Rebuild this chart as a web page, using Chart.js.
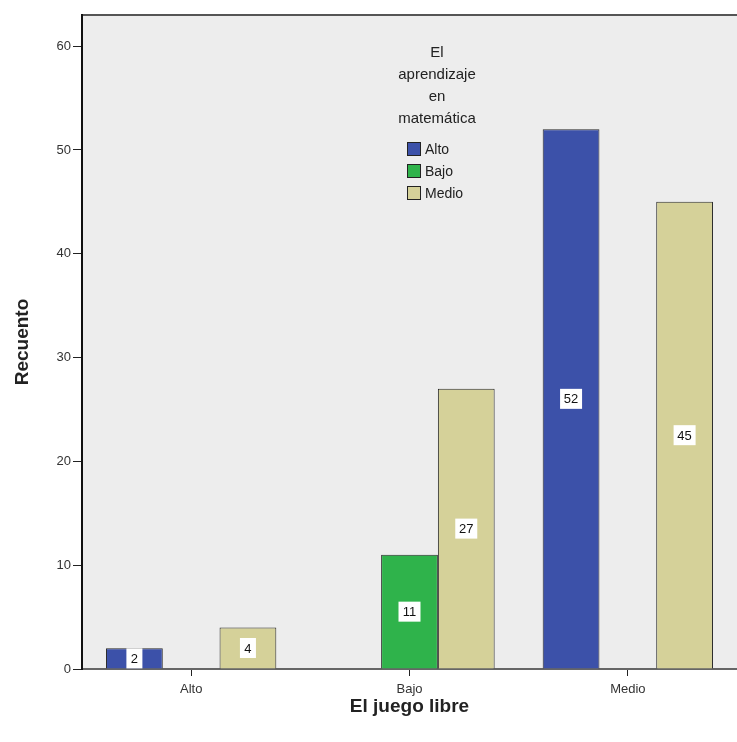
<!DOCTYPE html>
<html>
<head>
<meta charset="utf-8">
<script src="https://cdn.jsdelivr.net/npm/chart.js@4"></script>
<style>
  html, body { margin: 0; padding: 0; background: #fff; }
  #wrap { width: 737px; height: 742px; }
</style>
</head>
<body>
<div id="wrap"><canvas id="juego"></canvas></div>
<script>
// categorias del eje X (El juego libre)
var categorias = ['Alto', 'Bajo', 'Medio'];
// series (El aprendizaje en matemática)
var serieNombres = ['Alto', 'Bajo', 'Medio'];
var recuentoAlto = [2, 0, 52];
var recuentoBajo = [0, 11, 0];
var recuentoMedio = [4, 27, 45];
var yTicks = [0, 10, 20, 30, 40, 50, 60];
var legendTitle = ['El', 'aprendizaje', 'en', 'matemática'];

var colores = ['#3C51A9', '#2FB34B', '#D5D199'];

function barBorder(ctx) {
  return ctx.raw ? 1 : 0;
}

// fondo del area y borde superior
var fondoPlugin = {
  id: 'fondo',
  beforeDraw: function (chart) {
    var a = chart.chartArea, c = chart.ctx;
    c.save();
    c.fillStyle = '#EDEDED';
    c.fillRect(a.left, a.top, a.right - a.left, a.bottom - a.top);
    c.strokeStyle = '#555';
    c.lineWidth = 2;
    c.beginPath();
    c.moveTo(a.left, a.top);
    c.lineTo(a.right, a.top);
    c.stroke();
    c.restore();
  }
};

// etiquetas blancas dentro de las barras + leyenda interior
var etiquetasPlugin = {
  id: 'etiquetas',
  afterDatasetsDraw: function (chart) {
    var c = chart.ctx;
    c.save();
    c.font = '13px "Liberation Sans", Arial, sans-serif';
    c.textAlign = 'center';
    c.textBaseline = 'middle';
    chart.data.datasets.forEach(function (ds, i) {
      chart.getDatasetMeta(i).data.forEach(function (bar, j) {
        var v = ds.data[j];
        if (!v) return;
        var y = (bar.y + bar.base) / 2;
        var w = String(v).length > 1 ? 22 : 16;
        c.fillStyle = '#FFFFFF';
        c.fillRect(bar.x - w / 2, y - 10, w, 20);
        c.fillStyle = '#111';
        c.fillText(v, bar.x, y + 1);
      });
    });

    // leyenda
    var cx = 437;
    c.fillStyle = '#222';
    c.font = '15px "Liberation Sans", Arial, sans-serif';
    legendTitle.forEach(function (t, k) {
      c.fillText(t, cx, 53 + k * 22);
    });
    c.textAlign = 'left';
    c.font = '14px "Liberation Sans", Arial, sans-serif';
    chart.data.datasets.forEach(function (ds, i) {
      var y = 149 + i * 22;
      c.fillStyle = ds.backgroundColor;
      c.fillRect(407, y - 7, 14, 14);
      c.strokeStyle = '#222';
      c.lineWidth = 1;
      c.strokeRect(407.5, y - 6.5, 13, 13);
      c.fillStyle = '#222';
      c.fillText(ds.label, 425, y + 1);
    });
    c.restore();
  }
};

var ctxJuego = document.getElementById('juego').getContext('2d');

var juegoChart = new Chart(ctxJuego, {
  type: 'bar',
  data: {
    labels: categorias,
    datasets: [
      { label: serieNombres[0], data: recuentoAlto, backgroundColor: colores[0] },
      { label: serieNombres[1], data: recuentoBajo, backgroundColor: colores[1] },
      { label: serieNombres[2], data: recuentoMedio, backgroundColor: colores[2] }
    ]
  },
  options: {
    responsive: true,
    maintainAspectRatio: false,
    animation: false,
    layout: { padding: { top: 15, right: 0, left: 0, bottom: 24 } },
    datasets: {
      bar: {
        barPercentage: 1.0,
        categoryPercentage: 0.78,
        borderColor: '#2a2a2a',
        borderWidth: barBorder,
        borderSkipped: 'bottom'
      }
    },
    plugins: {
      legend: { display: false },
      tooltip: { enabled: false }
    },
    scales: {
      x: {
        grid: {
          display: true,
          offset: false,
          drawOnChartArea: false,
          drawTicks: true,
          tickLength: 7,
          tickColor: '#222',
          tickWidth: 1
        },
        border: { display: true, color: '#666', width: 2 },
        ticks: {
          color: '#333',
          padding: 6,
          font: { family: '"Liberation Sans", Arial, sans-serif', size: 13 }
        },
        title: {
          display: true,
          text: 'El juego libre',
          color: '#222',
          font: { family: '"Liberation Sans", Arial, sans-serif', size: 19, weight: 'bold' },
          padding: { top: 4, bottom: 0 }
        },
        afterFit: function (scale) { scale.height = 49; }
      },
      y: {
        min: 0,
        max: 63,
        afterBuildTicks: function (scale) {
          scale.ticks = yTicks.map(function (v) { return { value: v }; });
        },
        grid: {
          display: true,
          drawOnChartArea: false,
          drawTicks: true,
          tickLength: 9,
          tickColor: '#222',
          tickWidth: 1
        },
        border: { display: true, color: '#111', width: 2 },
        ticks: {
          color: '#333',
          padding: 2,
          font: { family: '"Liberation Sans", Arial, sans-serif', size: 13 }
        },
        title: {
          display: true,
          text: 'Recuento',
          color: '#222',
          font: { family: '"Liberation Sans", Arial, sans-serif', size: 19, weight: 'bold' },
          padding: { top: 11, bottom: 0 }
        },
        afterFit: function (scale) { scale.width = 82; }
      }
    }
  },
  plugins: [fondoPlugin, etiquetasPlugin]
});
</script>
</body>
</html>
